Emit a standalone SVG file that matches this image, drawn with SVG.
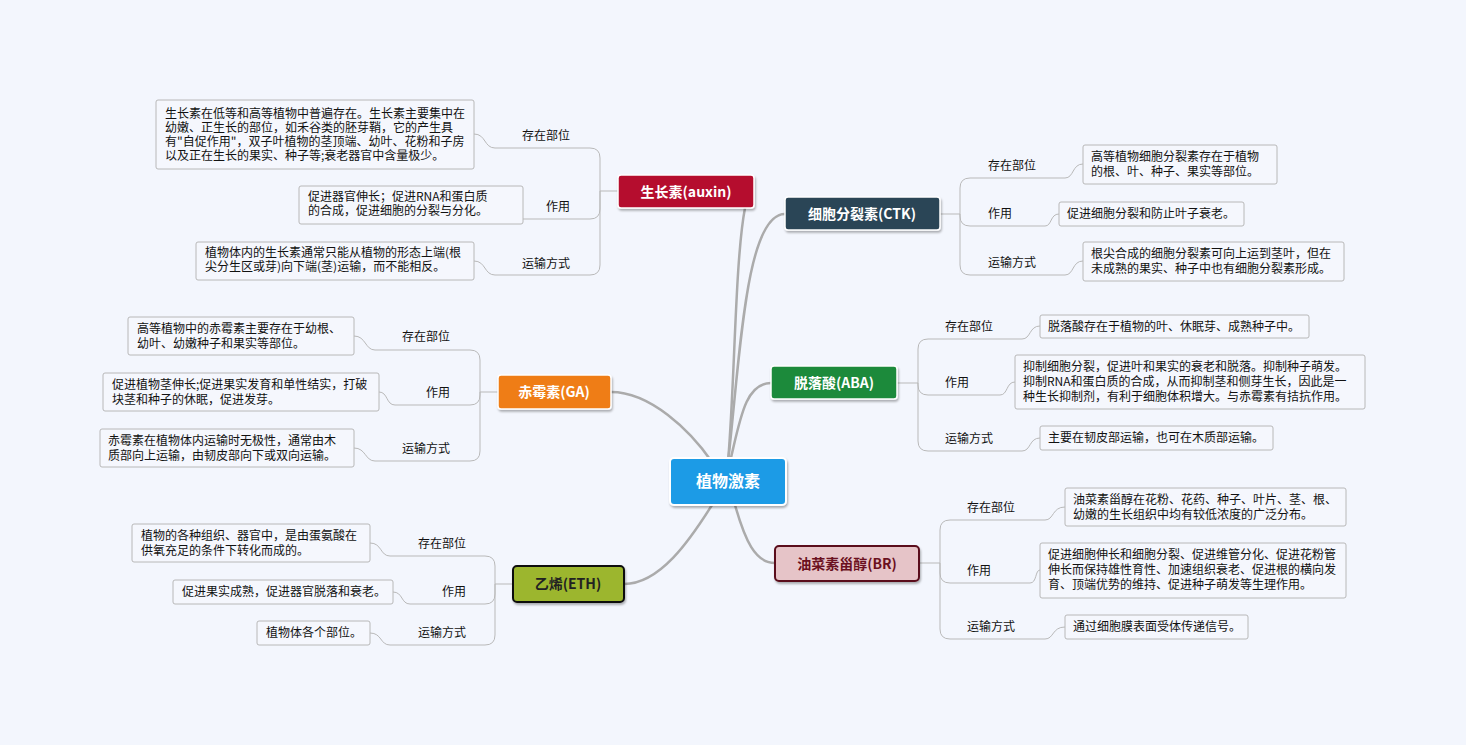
<svg xmlns="http://www.w3.org/2000/svg" width="1466" height="745" viewBox="0 0 1466 745">
<style>
text{font-family:"Noto Sans CJK SC","Liberation Sans",sans-serif}
.leaf{fill:#f5f7fd;stroke:#b8b8b8;stroke-width:1}
.lt{font-size:12px;fill:#111}
.lab{font-size:12px;fill:#111}
.br{fill:none;stroke:#b9b9b9;stroke-width:1}
.main{fill:none;stroke:#ababab;stroke-width:2.5}
.mt{font-size:14px;font-weight:bold;fill:#fff;text-anchor:middle}
</style>
<defs><filter id="sh" x="-10%" y="-10%" width="130%" height="140%"><feDropShadow dx="1" dy="2" stdDeviation="1.2" flood-color="#000" flood-opacity="0.3"/></filter></defs>
<rect width="1466" height="745" fill="#f3f6fd"/>
<g id="connectors">
<path class="main" d="M728,462 C735,380 735,260 745,208"/>
<path class="main" d="M728,462 C740,360 745,214 785,214"/>
<path class="main" d="M730,462 C740,420 745,383 771,383"/>
<path class="main" d="M712,462 C690,430 650,392 611,392"/>
<path class="main" d="M712,505 C690,540 660,584 624,584"/>
<path class="main" d="M735,505 C745,540 755,563 775,563"/>
<path class="br" d="M618,191 H600 M600,191 V158 Q600,148 590,148 H495 C484,148 486,134 474,134 M600,191 V209 Q600,219 590,219 H520 C512,219 514,205 523,205 M600,191 V265 Q600,275 590,275 H495 C484,275 486,261 474,261"/>
<path class="br" d="M940,214 H960 M960,214 V188 Q960,178 970,178 H1065 C1074,178 1072,164 1083,164 M960,214 V216 Q960,226 970,226 H1045 C1052,226 1050,214 1059,214 M960,214 V265 Q960,275 970,275 H1065 C1074,275 1072,261 1083,261"/>
<path class="br" d="M897,383 H918 M918,383 V349 Q918,339 928,339 H1022 C1031,339 1029,326 1040,326 M918,383 V385 Q918,395 928,395 H1000 C1008,395 1006,382 1015,382 M918,383 V441 Q918,451 928,451 H1022 C1031,451 1029,438 1040,438"/>
<path class="br" d="M498,392 H480 M480,392 V360 Q480,350 470,350 H375 C365,350 366,336 354,336 M480,392 V395 Q480,405 470,405 H395 C386,405 388,392 379,392 M480,392 V451 Q480,461 470,461 H375 C365,461 366,448 354,448"/>
<path class="br" d="M513,584 H495 M495,584 V566 Q495,556 485,556 H390 C380,556 382,543 370,543 M495,584 V594 Q495,604 485,604 H410 C401,604 403,592 393,592 M495,584 V635 Q495,645 485,645 H390 C380,645 382,633 370,633"/>
<path class="br" d="M919,563 H940 M940,563 V530 Q940,520 950,520 H1045 C1054,520 1052,507 1065,507 M940,563 V573 Q940,583 950,583 H1030 C1037,583 1035,570 1040,570 M940,563 V629 Q940,639 950,639 H1045 C1054,639 1052,627 1065,627"/>
</g>
<g id="root"><rect x="670" y="458" width="116" height="47" rx="4" fill="#1e9be6" stroke="#fff" stroke-width="2" filter="url(#sh)"/><text class="mt" x="728" y="487" style="font-size:16px">植物激素</text></g>
<g id="auxin"><rect x="618" y="175" width="136" height="33" rx="3" fill="#b5102e" stroke="#fff" stroke-width="1.5" filter="url(#sh)"/><text class="mt" x="686" y="197">生长素(auxin)</text></g>
<g id="ctk"><rect x="785" y="197" width="155" height="33" rx="3" fill="#2b4456" stroke="#fff" stroke-width="1.5" filter="url(#sh)"/><text class="mt" x="862" y="219">细胞分裂素(CTK)</text></g>
<g id="aba"><rect x="771" y="366" width="126" height="33" rx="3" fill="#1c8a3a" stroke="#fff" stroke-width="1.5" filter="url(#sh)"/><text class="mt" x="834" y="388">脱落酸(ABA)</text></g>
<g id="ga"><rect x="498" y="375" width="113" height="34" rx="3" fill="#ef7d14" stroke="#fff" stroke-width="1.5" filter="url(#sh)"/><text class="mt" x="554" y="397">赤霉素(GA)</text></g>
<g id="eth"><rect x="513" y="566" width="111" height="36" rx="4" fill="#9cb62d" stroke="#111" stroke-width="2" filter="url(#sh)"/><text class="mt" x="568" y="589" style="fill:#222">乙烯(ETH)</text></g>
<g id="br"><rect x="775" y="546" width="144" height="35" rx="4" fill="#e6c4c8" stroke="#5a0f1c" stroke-width="2" filter="url(#sh)"/><text class="mt" x="847" y="569" style="fill:#6b1020">油菜素甾醇(BR)</text></g>
<g id="labels">
<text class="lab" x="522" y="140">存在部位</text><text class="lab" x="546" y="211">作用</text><text class="lab" x="522" y="268">运输方式</text>
<text class="lab" x="988" y="170">存在部位</text><text class="lab" x="988" y="218">作用</text><text class="lab" x="988" y="267">运输方式</text>
<text class="lab" x="945" y="331">存在部位</text><text class="lab" x="945" y="387">作用</text><text class="lab" x="945" y="443">运输方式</text>
<text class="lab" x="402" y="341">存在部位</text><text class="lab" x="426" y="397">作用</text><text class="lab" x="402" y="453">运输方式</text>
<text class="lab" x="418" y="548">存在部位</text><text class="lab" x="442" y="596">作用</text><text class="lab" x="418" y="637">运输方式</text>
<text class="lab" x="967" y="512">存在部位</text><text class="lab" x="967" y="575">作用</text><text class="lab" x="967" y="631">运输方式</text>
</g>
<g id="leaves">
<g id="l1"><rect class="leaf" x="156" y="100" width="318" height="69" rx="2"/><text class="lt" x="165" y="118">生长素在低等和高等植物中普遍存在。生长素主要集中在<tspan x="165" dy="14">幼嫩、正生长的部位，如禾谷类的胚芽鞘，它的产生具</tspan><tspan x="165" dy="14">有"自促作用"，双子叶植物的茎顶端、幼叶、花粉和子房</tspan><tspan x="165" dy="14">以及正在生长的果实、种子等;衰老器官中含量极少。</tspan></text></g>
<g id="l2"><rect class="leaf" x="299" y="186" width="224" height="38" rx="2"/><text class="lt" x="308" y="201">促进器官伸长；促进RNA和蛋白质<tspan x="308" dy="14">的合成，促进细胞的分裂与分化。</tspan></text></g>
<g id="l3"><rect class="leaf" x="196" y="242" width="278" height="38" rx="2"/><text class="lt" x="205" y="257">植物体内的生长素通常只能从植物的形态上端(根<tspan x="205" dy="14">尖分生区或芽)向下端(茎)运输，而不能相反。</tspan></text></g>
<g id="l4"><rect class="leaf" x="1083" y="145" width="194" height="39" rx="2"/><text class="lt" x="1091" y="161">高等植物细胞分裂素存在于植物<tspan x="1091" dy="15">的根、叶、种子、果实等部位。</tspan></text></g>
<g id="l5"><rect class="leaf" x="1059" y="202" width="185" height="24" rx="2"/><text class="lt" x="1067" y="218">促进细胞分裂和防止叶子衰老。</text></g>
<g id="l6"><rect class="leaf" x="1083" y="242" width="261" height="39" rx="2"/><text class="lt" x="1091" y="258">根尖合成的细胞分裂素可向上运到茎叶，但在<tspan x="1091" dy="15">未成熟的果实、种子中也有细胞分裂素形成。</tspan></text></g>
<g id="l7"><rect class="leaf" x="1040" y="315" width="269" height="23" rx="2"/><text class="lt" x="1048" y="331">脱落酸存在于植物的叶、休眠芽、成熟种子中。</text></g>
<g id="l8"><rect class="leaf" x="1015" y="355" width="350" height="54" rx="2"/><text class="lt" x="1023" y="371">抑制细胞分裂，促进叶和果实的衰老和脱落。抑制种子萌发。<tspan x="1023" dy="15">抑制RNA和蛋白质的合成，从而抑制茎和侧芽生长，因此是一</tspan><tspan x="1023" dy="15">种生长抑制剂，有利于细胞体积增大。与赤霉素有拮抗作用。</tspan></text></g>
<g id="l9"><rect class="leaf" x="1040" y="426" width="233" height="24" rx="2"/><text class="lt" x="1048" y="442">主要在韧皮部运输，也可在木质部运输。</text></g>
<g id="l10"><rect class="leaf" x="128" y="317" width="226" height="38" rx="2"/><text class="lt" x="137" y="333">高等植物中的赤霉素主要存在于幼根、<tspan x="137" dy="15">幼叶、幼嫩种子和果实等部位。</tspan></text></g>
<g id="l11"><rect class="leaf" x="103" y="373" width="276" height="38" rx="2"/><text class="lt" x="112" y="389">促进植物茎伸长;促进果实发育和单性结实，打破<tspan x="112" dy="15">块茎和种子的休眠，促进发芽。</tspan></text></g>
<g id="l12"><rect class="leaf" x="100" y="429" width="254" height="38" rx="2"/><text class="lt" x="108" y="445">赤霉素在植物体内运输时无极性，通常由木<tspan x="108" dy="15">质部向上运输，由韧皮部向下或双向运输。</tspan></text></g>
<g id="l13"><rect class="leaf" x="132" y="524" width="238" height="38" rx="2"/><text class="lt" x="141" y="540">植物的各种组织、器官中，是由蛋氨酸在<tspan x="141" dy="15">供氧充足的条件下转化而成的。</tspan></text></g>
<g id="l14"><rect class="leaf" x="173" y="580" width="220" height="24" rx="2"/><text class="lt" x="182" y="596">促进果实成熟，促进器官脱落和衰老。</text></g>
<g id="l15"><rect class="leaf" x="257" y="621" width="113" height="24" rx="2"/><text class="lt" x="266" y="637">植物体各个部位。</text></g>
<g id="l16"><rect class="leaf" x="1065" y="488" width="281" height="38" rx="2"/><text class="lt" x="1073" y="504">油菜素甾醇在花粉、花药、种子、叶片、茎、根、<tspan x="1073" dy="15">幼嫩的生长组织中均有较低浓度的广泛分布。</tspan></text></g>
<g id="l17"><rect class="leaf" x="1040" y="543" width="306" height="55" rx="2"/><text class="lt" x="1048" y="559">促进细胞伸长和细胞分裂、促进维管分化、促进花粉管<tspan x="1048" dy="15">伸长而保持雄性育性、加速组织衰老、促进根的横向发</tspan><tspan x="1048" dy="15">育、顶端优势的维持、促进种子萌发等生理作用。</tspan></text></g>
<g id="l18"><rect class="leaf" x="1065" y="615" width="183" height="24" rx="2"/><text class="lt" x="1073" y="631">通过细胞膜表面受体传递信号。</text></g>
</g>
</svg>
